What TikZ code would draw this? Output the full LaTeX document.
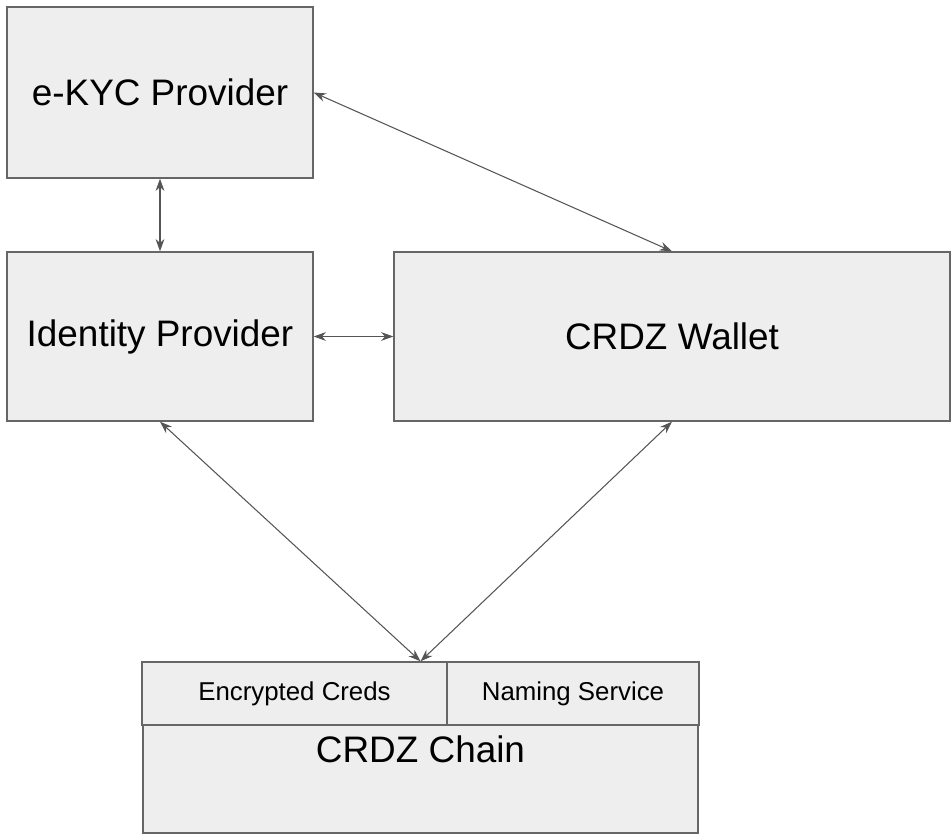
\documentclass[tikz,border=0pt]{standalone}
\usepackage{fontspec}
\setmainfont{Liberation Sans}
\usetikzlibrary{calc, arrows.meta, positioning}

\definecolor{boxfill}{HTML}{EEEEEE}
\definecolor{boxline}{HTML}{666666}
\definecolor{arrline}{HTML}{555555}

\begin{document}
\begin{tikzpicture}[x=0.02cm, y=-0.02cm,
    blk/.style={draw=boxline, line width=0.8pt, fill=boxfill, align=center, inner sep=0pt,
      font=\fontsize{21}{25}\selectfont},
    cell/.style={blk, font=\fontsize{14.7}{17}\selectfont},
    link/.style={draw=arrline, line width=0.6pt, {Stealth[length=7pt,width=5pt]}-{Stealth[length=7pt,width=5pt]}}]
    \useasboundingbox (0,0) rectangle (951,835);
    \node[blk, minimum width=6.12cm, minimum height=3.42cm] (ekyc) at (160,92.5) {e-KYC Provider};
    \node[blk, minimum width=6.12cm, minimum height=3.38cm] (idp) at (160,336.5) {Identity Provider};
    \node[blk, minimum width=11.12cm, minimum height=3.38cm] (wallet) at (672,336.5) {CRDZ Wallet};
    \node[cell, minimum width=6.10cm, minimum height=1.26cm] (creds) at (294.5,693.5) {Encrypted Creds};
    \node[cell, minimum width=5.04cm, minimum height=1.26cm] (naming) at (573,693.5) {Naming Service};
    \node[blk, minimum width=11.10cm, minimum height=2.16cm,
      label={[anchor=north, inner sep=0pt, yshift=-0.22cm, font=\fontsize{21}{25}\selectfont]north:CRDZ Chain}] (chain) at (420.5,779) {};
    \coordinate (hub) at (chain.north |- creds.north);
    \draw[link] (ekyc) -- (idp);
    \draw[link] (idp) -- (wallet);
    \draw[link] (ekyc.east) -- (wallet.north);
    \draw[link] (idp.south) -- (hub);
    \draw[link] (wallet.south) -- (hub);
  \end{tikzpicture}
\end{document}
